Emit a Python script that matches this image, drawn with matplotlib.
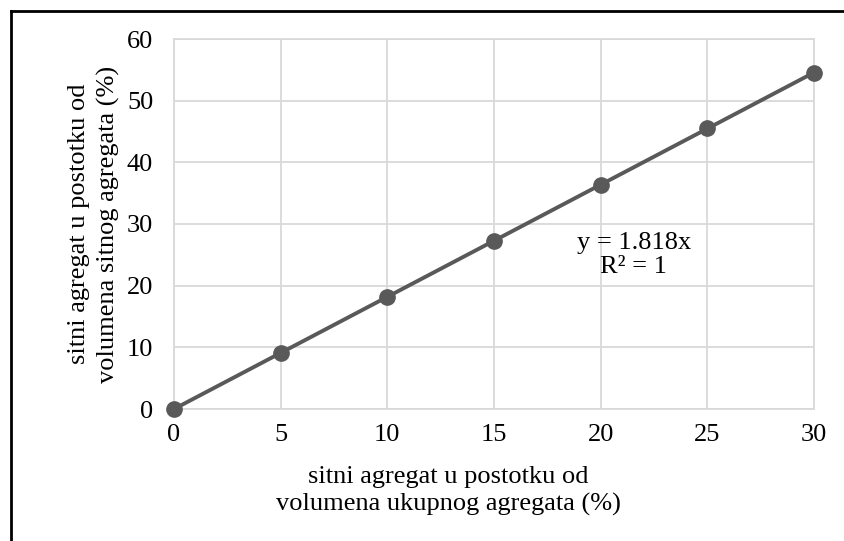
import numpy as np
import matplotlib.pyplot as plt
from matplotlib.lines import Line2D

plt.rcParams['font.family'] = ['Liberation Serif', 'DejaVu Serif']

# data
x_vals = [0, 5, 10, 15, 20, 25, 30]
y_vals = [0, 9.1, 18.2, 27.3, 36.4, 45.5, 54.5]
x_ticks = [0, 5, 10, 15, 20, 25, 30]
y_ticks = [0, 10, 20, 30, 40, 50, 60]

W, H = 844, 541
fig = plt.figure(figsize=(W / 100, H / 100), dpi=100)
ax = fig.add_axes([174/W, 1 - 409/H, 640/W, 370/H])

fs = 19
grid_col = '#d9d9d9'
ax.set_xlim(0, 30)
ax.set_ylim(0, 60)
ax.set_xticks(x_ticks)
ax.set_yticks(y_ticks)
ax.grid(True, color=grid_col, linewidth=1.3)
ax.set_axisbelow(True)
for s in ax.spines.values():
    s.set_color(grid_col)
    s.set_linewidth(1.3)
ax.tick_params(length=0, labelsize=fs, colors='black')
ax.tick_params(axis='x', pad=11)
ax.tick_params(axis='y', pad=15)

# linear trendline through origin
slope = np.sum(np.array(x_vals) * np.array(y_vals)) / np.sum(np.array(x_vals) ** 2)
xt = np.array([0, 30])
ax.plot(xt, slope * xt, color='#595959', linewidth=2.8, zorder=3)
ax.plot(x_vals, y_vals, 'o', color='#595959', markersize=11, zorder=4, clip_on=False)

ax.text(21.55, 25.0, "y = 1.818x\nR² = 1", ha='center', va='center',
        fontsize=fs, linespacing=1.1)

# axis titles
fig.text(448/W, 1 - 491/H, "sitni agregat u postotku od\nvolumena ukupnog agregata (%)",
         ha='center', va='center', fontsize=fs, linespacing=1.3)
fig.text(94/W, 1 - 224/H, "sitni agregat u postotku od\nvolumena sitnog agregata (%)",
         ha='center', va='center', rotation=90, fontsize=fs, linespacing=1.38)

# outer frame (only left and top visible)
fig.add_artist(Line2D([11/W, 11/W], [0, 1 - 11/H], color='black', linewidth=2))
fig.add_artist(Line2D([11/W, 1], [1 - 11/H, 1 - 11/H], color='black', linewidth=2))

fig.savefig('out.png', dpi=100)
